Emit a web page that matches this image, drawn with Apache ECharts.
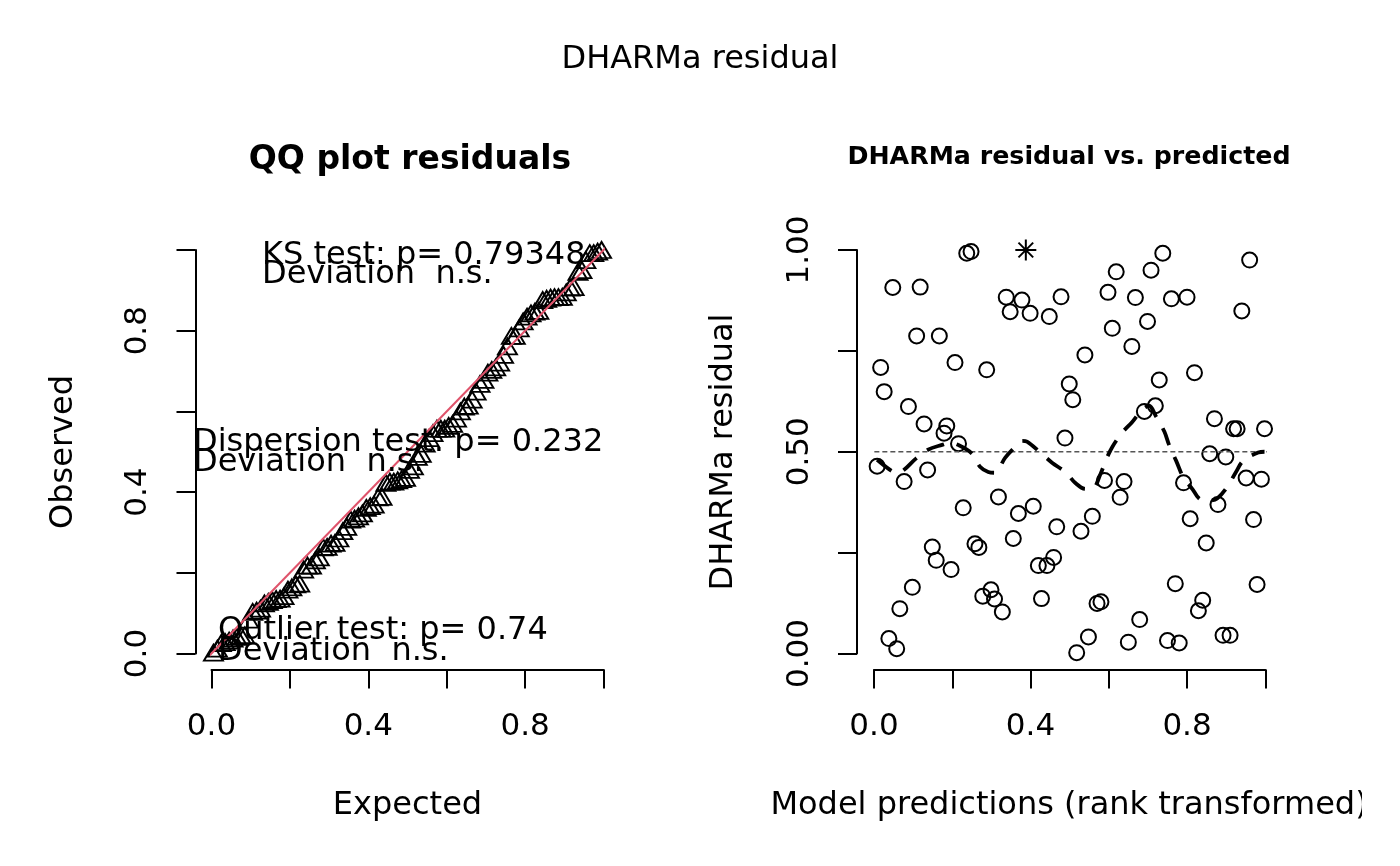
<!DOCTYPE html>
<html><head><meta charset="utf-8">
<script src="https://cdn.jsdelivr.net/npm/echarts@6/dist/echarts.min.js"></script>
<style>html,body{margin:0;padding:0;background:#fff}#c{width:1400px;height:866px}</style>
</head><body><div id="c"></div>
<script>
const FONT = 'DejaVu Sans';

// QQ plot: expected uniform quantiles vs sorted observed residuals
const qqExpected = [0.005,0.015,0.025,0.035,0.045,0.055,0.065,0.075,0.085,0.095,
  0.105,0.115,0.125,0.135,0.145,0.155,0.165,0.175,0.185,0.195,
  0.205,0.215,0.225,0.235,0.245,0.255,0.265,0.275,0.285,0.295,
  0.305,0.315,0.325,0.335,0.345,0.355,0.365,0.375,0.385,0.395,
  0.405,0.415,0.425,0.435,0.445,0.455,0.465,0.475,0.485,0.495,
  0.505,0.515,0.525,0.535,0.545,0.555,0.565,0.575,0.585,0.595,
  0.605,0.615,0.625,0.635,0.645,0.655,0.665,0.675,0.685,0.695,
  0.705,0.715,0.725,0.735,0.745,0.755,0.765,0.775,0.785,0.795,
  0.805,0.815,0.825,0.835,0.845,0.855,0.865,0.875,0.885,0.895,
  0.905,0.915,0.925,0.935,0.945,0.955,0.965,0.975,0.985,0.995];
const qqObserved = [0.002,0.012,0.026,0.028,0.032,0.037,0.041,0.045,0.045,0.084,
  0.103,0.106,0.111,0.124,0.128,0.132,0.135,0.136,0.142,0.158,
  0.164,0.171,0.173,0.208,0.218,0.218,0.231,0.238,0.263,0.264,
  0.272,0.274,0.285,0.303,0.314,0.332,0.334,0.340,0.347,0.361,
  0.365,0.369,0.387,0.388,0.423,0.426,0.426,0.429,0.432,0.435,
  0.455,0.464,0.487,0.495,0.520,0.534,0.546,0.557,0.557,0.557,
  0.564,0.569,0.582,0.600,0.612,0.614,0.629,0.649,0.668,0.678,
  0.696,0.703,0.709,0.721,0.740,0.761,0.787,0.787,0.806,0.823,
  0.835,0.843,0.847,0.849,0.876,0.879,0.882,0.883,0.883,0.884,
  0.895,0.907,0.908,0.946,0.950,0.975,0.992,0.992,0.996,1.000];

// Residual vs predicted
const resX = [0.237,0.248,0.738,0.960,0.619,0.708,0.048,0.118,0.338,0.378,
  0.478,0.598,0.668,0.760,0.800,0.348,0.399,0.448,0.940,0.109,
  0.167,0.609,0.699,0.659,0.539,0.017,0.207,0.288,0.026,0.499,
  0.508,0.729,0.819,0.088,0.128,0.186,0.179,0.216,0.488,0.691,
  0.719,0.870,0.919,0.928,0.998,0.858,0.008,0.077,0.137,0.899,
  0.951,0.990,0.589,0.639,0.629,0.791,0.879,0.318,0.228,0.369,
  0.407,0.467,0.558,0.529,0.808,0.970,0.356,0.149,0.159,0.197,
  0.258,0.268,0.849,0.459,0.420,0.442,0.098,0.066,0.278,0.299,
  0.308,0.328,0.428,0.570,0.580,0.679,0.770,0.840,0.829,0.979,
  0.038,0.058,0.548,0.518,0.650,0.750,0.780,0.892,0.910];
const resY = [0.992,0.996,0.992,0.975,0.946,0.950,0.907,0.908,0.883,0.876,
  0.884,0.895,0.882,0.879,0.883,0.847,0.843,0.835,0.849,0.787,
  0.787,0.806,0.823,0.761,0.740,0.709,0.721,0.703,0.649,0.668,
  0.629,0.678,0.696,0.612,0.569,0.564,0.546,0.520,0.534,0.600,
  0.614,0.582,0.557,0.557,0.557,0.495,0.464,0.426,0.455,0.487,
  0.435,0.432,0.429,0.426,0.387,0.423,0.369,0.388,0.361,0.347,
  0.365,0.314,0.340,0.303,0.334,0.332,0.285,0.264,0.231,0.208,
  0.272,0.263,0.274,0.238,0.218,0.218,0.164,0.111,0.142,0.158,
  0.135,0.103,0.136,0.124,0.128,0.084,0.173,0.132,0.106,0.171,
  0.037,0.012,0.041,0.002,0.028,0.032,0.026,0.045,0.045];
const outlierX = [0.388];
const outlierY = [1.0];

// Smoothed residual curve
const smoothX = [0.008,0.041,0.058,0.074,0.107,0.138,0.174,0.194,0.215,0.251,0.271,0.292,0.309,0.335,0.361,0.379,0.391,0.425,0.455,0.491,0.514,0.540,0.558,0.578,0.593,0.609,0.634,0.660,0.685,0.703,0.721,0.742,0.754,0.772,0.793,0.811,0.836,0.857,0.877,0.903,0.924,0.944,0.982,0.998];
const smoothY = [0.480,0.455,0.448,0.453,0.483,0.505,0.517,0.522,0.517,0.495,0.463,0.450,0.448,0.485,0.512,0.527,0.525,0.498,0.473,0.448,0.423,0.408,0.408,0.443,0.480,0.512,0.547,0.574,0.604,0.614,0.587,0.550,0.517,0.478,0.431,0.411,0.381,0.379,0.384,0.413,0.448,0.478,0.498,0.500];

const refLevel = 0.5;
const qqTicks = [0,0.2,0.4,0.6,0.8,1.0];
const qqTickLabels = ['0.0','','0.4','','0.8',''];
const resXTicks = [0,0.2,0.4,0.6,0.8,1.0];
const resXTickLabels = ['0.0','','0.4','','0.8',''];
const resYTicks = [0,0.25,0.5,0.75,1.0];
const resYTickLabels = ['0.00','','0.50','','1.00'];

const pad = 0.04; // R's 4% axis range extension

function fmt(ticks, labels) {
  return function (v) {
    const i = ticks.findIndex(t => Math.abs(t - v) < 1e-9);
    return i >= 0 ? labels[i] : '';
  };
}
function axis(gridIndex, ticks, labels, isY, offset) {
  return {
    type: 'value', gridIndex: gridIndex,
    min: ticks[0], max: ticks[ticks.length - 1], interval: ticks[1] - ticks[0],
    offset: offset,
    splitLine: { show: false },
    axisLine: { show: true, onZero: false, lineStyle: { color: '#000', width: 2 } },
    axisTick: { show: true, length: 19, lineStyle: { color: '#000', width: 2 } },
    axisLabel: { formatter: fmt(ticks, labels), fontFamily: FONT, fontSize: 31, color: '#000',
      margin: 42, rotate: isY ? 90 : 0, showMinLabel: true, showMaxLabel: true }
  };
}
function txt(text, x, y, size, opts) {
  opts = opts || {};
  return {
    type: 'text', x: x, y: y, rotation: opts.rot || 0, z: 100,
    style: {
      text: text, fill: '#000',
      font: (opts.bold ? 'bold ' : '') + size + 'px "' + FONT + '"',
      textAlign: opts.align || 'left', align: opts.align || 'left',
      textVerticalAlign: 'middle', verticalAlign: 'middle'
    }
  };
}

const chart = echarts.init(document.getElementById('c'), null, { renderer: 'canvas' });
const openStyle = { color: 'rgba(0,0,0,0)', borderColor: '#000', borderWidth: 2, opacity: 1 };

chart.setOption({
  animation: false,
  backgroundColor: '#fff',
  grid: [
    { left: 211.5, right: 796.5, top: 250, bottom: 212.5 },
    { left: 874, right: 134.7, top: 250, bottom: 212.5 }
  ],
  xAxis: [
    axis(0, qqTicks, qqTickLabels, false, 16),
    axis(1, resXTicks, resXTickLabels, false, 16)
  ],
  yAxis: [
    axis(0, qqTicks, qqTickLabels, true, 16),
    axis(1, resYTicks, resYTickLabels, true, 17)
  ],
  series: [
    {
      type: 'scatter', xAxisIndex: 0, yAxisIndex: 0, silent: true, clip: false,
      symbol: 'triangle', symbolSize: [19, 16],
      itemStyle: { color: 'rgba(0,0,0,0)', borderColor: '#000', borderWidth: 1.9, opacity: 1 },
      data: qqExpected.map((e, i) => [e, qqObserved[i]])
    },
    {
      type: 'line', xAxisIndex: 0, yAxisIndex: 0, silent: true, clip: false, symbol: 'none',
      lineStyle: { color: '#DF536B', width: 2 },
      data: [[qqTicks[0] - pad, qqTicks[0] - pad], [qqTicks[qqTicks.length - 1] + pad, qqTicks[qqTicks.length - 1] + pad]]
    },
    {
      type: 'scatter', xAxisIndex: 1, yAxisIndex: 1, silent: true, clip: false,
      symbol: 'circle', symbolSize: 15, itemStyle: openStyle,
      data: resX.map((x, i) => [x, resY[i]])
    },
    {
      type: 'scatter', xAxisIndex: 1, yAxisIndex: 1, silent: true, clip: false,
      symbol: 'path://M10 0L10 20M0 10L20 10M3 3L17 17M3 17L17 3', symbolSize: 21,
      itemStyle: { color: 'rgba(0,0,0,0)', borderColor: '#000', borderWidth: 2, opacity: 1 },
      data: outlierX.map((x, i) => [x, outlierY[i]])
    },
    {
      type: 'line', xAxisIndex: 1, yAxisIndex: 1, silent: true, clip: false, symbol: 'none',
      lineStyle: { color: '#555', width: 1.3, type: [5, 3] },
      data: [[resXTicks[0] - pad, refLevel], [resXTicks[resXTicks.length - 1] + pad, refLevel]]
    },
    {
      type: 'line', xAxisIndex: 1, yAxisIndex: 1, silent: true, clip: false, symbol: 'none',
      smooth: 0.35,
      lineStyle: { color: '#000', width: 3.8, type: [18, 13] },
      data: smoothX.map((x, i) => [x, smoothY[i]])
    }
  ],
  graphic: [
    txt('DHARMa residual', 700, 60, 32, { align: 'center' }),
    txt('QQ plot residuals', 410, 160, 33, { align: 'center', bold: true }),
    txt('DHARMa residual vs. predicted', 1069, 157, 25.3, { align: 'center', bold: true }),
    txt('Expected', 407.5, 805.7, 32, { align: 'center' }),
    txt('Model predictions (rank transformed)', 1069, 805.7, 32, { align: 'center' }),
    txt('Observed', 64, 452, 32, { align: 'center', rot: Math.PI / 2 }),
    txt('DHARMa residual', 724, 452, 32, { align: 'center', rot: Math.PI / 2 }),
    txt('KS test: p= 0.79348', 262, 256, 32),
    txt('Deviation  n.s.', 262, 275, 32),
    txt('Dispersion test: p= 0.232', 193, 443, 32),
    txt('Deviation  n.s.', 193, 463, 32),
    txt('Outlier test: p= 0.74', 218, 631, 32),
    txt('Deviation  n.s.', 218, 651.5, 32),
    { type: 'rect', z: 200, shape: { x: 1362, y: 770, width: 38, height: 80 }, style: { fill: '#fff' } }
  ]
});
</script>
</body></html>
